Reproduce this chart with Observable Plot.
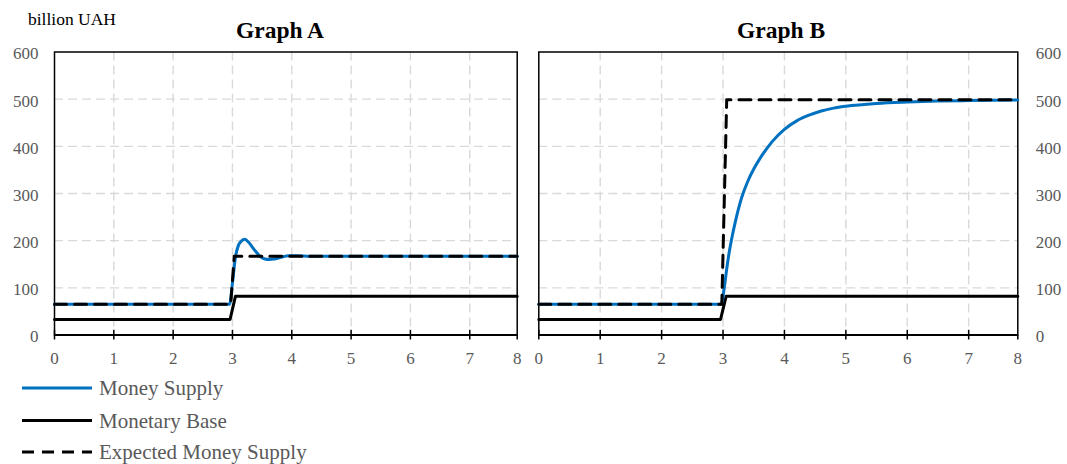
<!DOCTYPE html>
<html>
<head>
<meta charset="utf-8">
<script src="https://cdn.jsdelivr.net/npm/d3@7"></script>
<script src="https://cdn.jsdelivr.net/npm/@observablehq/plot@0.6"></script>
<style>
  html, body { margin: 0; padding: 0; background: #fff; }
  #root { position: relative; width: 1067px; height: 464px; overflow: hidden; font-family: "Liberation Serif", "Times New Roman", serif; }
  #chartA { position: absolute; left: 0; top: 0; }
  #chartB { position: absolute; left: 530px; top: 0; }
  #overlay { position: absolute; left: 0; top: 0; }
</style>
</head>
<body>
<div id="root">
  <div id="chartA"></div>
  <div id="chartB"></div>
  <svg id="overlay" width="1067" height="464"></svg>
</div>
<script>
// ---- data ----
const xTicks = [0, 1, 2, 3, 4, 5, 6, 7, 7.8];
const xTickLabels = ["0", "1", "2", "3", "4", "5", "6", "7", "8"];
const xGrid = [1, 2, 3, 4, 5, 6, 7];
const yTicks = [0, 100, 200, 300, 400, 500, 600];
const yGrid = [100, 200, 300, 400, 500];

// Graph A
const tMsA = [0, 2.95, 3.0, 3.05, 3.1, 3.15, 3.21, 3.27, 3.33, 3.4, 3.47, 3.55, 3.62, 3.7, 3.8, 3.95, 4.1, 4.3, 7.8];
const msA  = [65, 65, 110, 165, 190, 199, 203, 197, 187, 176, 166, 161, 160, 161, 164, 168, 168, 167, 167];
const tExpA = [0, 2.97, 3.03, 7.8];
const expA  = [65, 65, 167, 167];
const tMbA = [0, 2.96, 3.05, 7.8];
const mbA  = [33, 33, 82, 82];

// Graph B
const tMsB = [0, 2.97, 3.02, 3.06, 3.1, 3.15, 3.2, 3.3, 3.4, 3.5, 3.6, 3.7, 3.8, 4.0, 4.2, 4.4, 4.6, 4.8, 5.0, 5.5, 6.0, 6.5, 7.0, 7.8];
const msB  = [65, 65, 100, 140, 175, 210, 240, 290, 325, 352, 374, 393, 410, 436, 454, 466, 475, 481, 485, 491, 494, 496, 497, 498];
const tExpB = [0, 2.98, 3.06, 7.8];
const expB  = [65, 65, 499, 499];
const tMbB = [0, 2.96, 3.05, 7.8];
const mbB  = [33, 33, 82, 82];

const titles = ["Graph A", "Graph B"];
const unitLabel = "billion UAH";
const legendLabels = ["Money Supply", "Monetary Base", "Expected Money Supply"];

// ---- style ----
const BLUE = "#0070C0";
const GRID = "#d9d9d9";
const TICKC = "#595959";
const FONT = "'Liberation Serif', 'Times New Roman', serif";
const DASH = "12,8";

const rows = (ts, vs) => ts.map((t, i) => ({t, v: vs[i]}));

function makeChart({width, ml, mr, anchor, pad, ms, exp, mb}) {
  const svg = Plot.plot({
    width, height: 370,
    marginLeft: ml, marginRight: mr, marginTop: 51.5, marginBottom: 35.5,
    x: {domain: [0, 7.8]},
    y: {domain: [0, 600]},
    style: {background: "transparent", overflow: "visible"},
    marks: [
      Plot.gridX(xGrid, {stroke: GRID, strokeOpacity: 1, strokeWidth: 1.4, strokeDasharray: "9,5"}),
      Plot.gridY(yGrid, {stroke: GRID, strokeOpacity: 1, strokeWidth: 1.4, strokeDasharray: "9,5"}),
      Plot.axisX(xTicks, {tickSize: 5, tickPadding: 12, stroke: "black", strokeWidth: 1.5, fill: TICKC,
        tickFormat: d => xTickLabels[xTicks.indexOf(d)], label: null}),
      Plot.ruleX(xTicks.slice(0, 8), {y1: 0, y2: 10, stroke: "black", strokeWidth: 1.5}),
      Plot.axisY(yTicks, {anchor, tickSize: 0, tickPadding: pad, fill: TICKC, dy: 2, label: null}),
      Plot.frame({stroke: "black", strokeWidth: 1.5}),
      Plot.ruleY([0], {stroke: "black", strokeWidth: 2}),
      Plot.line(mb, {x: "t", y: "v", stroke: "black", strokeWidth: 3}),
      Plot.line(ms, {x: "t", y: "v", stroke: BLUE, strokeWidth: 3, curve: "monotone-x"}),
      Plot.line(exp, {x: "t", y: "v", stroke: "black", strokeWidth: 3, strokeDasharray: DASH})
    ]
  });
  d3.select(svg).selectAll("text, g")
    .style("font-family", FONT).style("font-size", "17px");
  d3.select(svg).style("font-family", FONT).style("font-size", "17px");
  return svg;
}

document.getElementById("chartA").append(makeChart({
  width: 530, ml: 54, mr: 13.3, anchor: "left", pad: 16,
  ms: rows(tMsA, msA), exp: rows(tExpA, expA), mb: rows(tMbA, mbA)
}));
document.getElementById("chartB").append(makeChart({
  width: 537, ml: 8.3, mr: 49.7, anchor: "right", pad: 18,
  ms: rows(tMsB, msB), exp: rows(tExpB, expB), mb: rows(tMbB, mbB)
}));

// ---- overlay: titles, unit label, legend ----
const ov = d3.select("#overlay").style("font-family", FONT);
ov.append("text").attr("x", 28).attr("y", 25).attr("font-size", 17.5).attr("fill", "black").text(unitLabel);
ov.selectAll("text.title").data(titles).join("text").attr("class", "title")
  .attr("x", (d, i) => i === 0 ? 280 : 781).attr("y", 38)
  .attr("text-anchor", "middle").attr("font-size", 23.5).attr("font-weight", "bold").attr("fill", "black")
  .text(d => d);

const legendStyles = [
  {stroke: BLUE, dash: null},
  {stroke: "black", dash: null},
  {stroke: "black", dash: DASH}
];
const ly = [388, 420.5, 452];
legendLabels.forEach((lab, i) => {
  const g = ov.append("g");
  g.append("line").attr("x1", 22).attr("x2", 92).attr("y1", ly[i]).attr("y2", ly[i])
    .attr("stroke", legendStyles[i].stroke).attr("stroke-width", 3)
    .attr("stroke-dasharray", legendStyles[i].dash);
  g.append("text").attr("x", 99).attr("y", ly[i] + 7).attr("font-size", 21).attr("fill", TICKC).text(lab);
});
</script>
</body>
</html>
